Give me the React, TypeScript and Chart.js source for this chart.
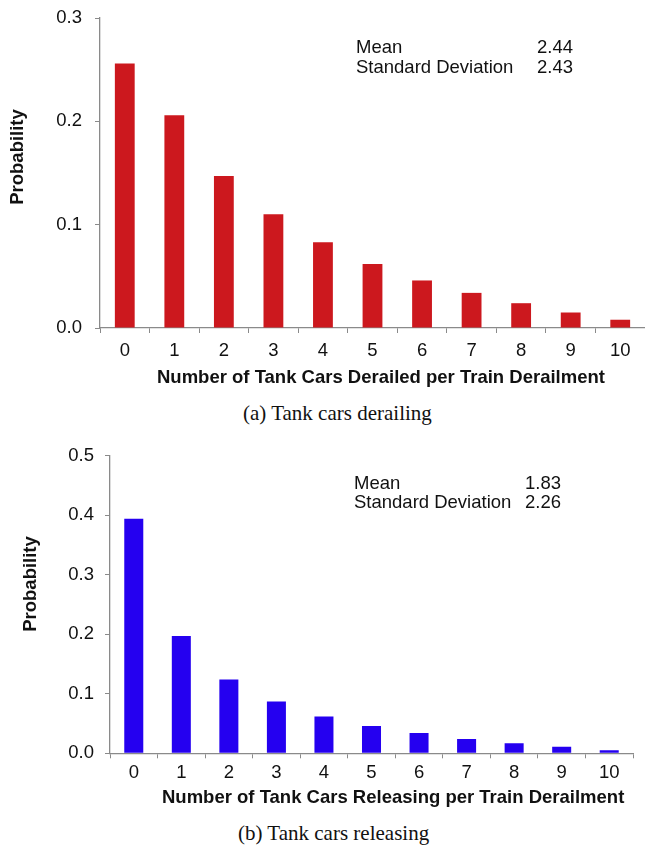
import React, { useEffect, useRef } from 'react';
import { Chart, registerables } from 'chart.js';

Chart.register(...registerables);

// ---- data ----
const categories = ['0', '1', '2', '3', '4', '5', '6', '7', '8', '9', '10'];
const derailedProb = [0.256, 0.206, 0.147, 0.110, 0.083, 0.062, 0.046, 0.034, 0.024, 0.015, 0.008];
const releasingProb = [0.394, 0.197, 0.124, 0.087, 0.062, 0.046, 0.034, 0.024, 0.017, 0.011, 0.005];
const derailedYMax = 0.3;
const releasingYMax = 0.5;
const yStep = 0.1;
const derailedStats = [['Mean', '2.44'], ['Standard Deviation', '2.43']];
const releasingStats = [['Mean', '1.83'], ['Standard Deviation', '2.26']];
const derailedXTitle = 'Number of Tank Cars Derailed per Train Derailment';
const releasingXTitle = 'Number of Tank Cars Releasing per Train Derailment';
const yTitle = 'Probability';
const captionA = '(a) Tank cars derailing';
const captionB = '(b) Tank cars releasing';

const FONT = '"Liberation Sans", Arial, Helvetica, sans-serif';
const FS = 18.5;
const AXIS_COLOR = '#8a8a8a';

type Annot = {
  text: string; x: number; y: number; bold?: boolean; align?: CanvasTextAlign;
  baseline?: CanvasTextBaseline; rotate?: number;
};

function makeAnnot(items: Annot[]) {
  return {
    id: 'annot',
    afterDraw(chart: any) {
      const ctx = chart.ctx as CanvasRenderingContext2D;
      items.forEach((it) => {
        ctx.save();
        ctx.font = `${it.bold ? 'bold ' : ''}${FS}px ${FONT}`;
        ctx.fillStyle = '#111';
        ctx.textAlign = it.align || 'left';
        ctx.textBaseline = it.baseline || 'alphabetic';
        ctx.translate(it.x, it.y);
        if (it.rotate) ctx.rotate(it.rotate);
        ctx.fillText(it.text, 0, 0);
        ctx.restore();
      });
    },
  };
}

type PanelProps = {
  top: number; height: number; values: number[]; color: string; yMax: number;
  axisLeft: number; padTop: number; padRight: number; plotBottom: number;
  xTickPad: number; yTickPad: number; annotations: Annot[];
};

function BarPanel(p: PanelProps) {
  const ref = useRef<HTMLCanvasElement | null>(null);
  useEffect(() => {
    const tickFont = { family: FONT, size: FS };
    const chart = new Chart(ref.current as HTMLCanvasElement, {
      type: 'bar',
      data: {
        labels: categories,
        datasets: [{
          data: p.values,
          backgroundColor: p.color,
          borderWidth: 0,
          categoryPercentage: 1,
          barPercentage: 0.4,
        }],
      },
      options: {
        responsive: false,
        animation: false,
        devicePixelRatio: 1,
        layout: { padding: { top: p.padTop, right: p.padRight, left: 0, bottom: 0 }, autoPadding: false },
        plugins: { legend: { display: false }, tooltip: { enabled: false } },
        scales: {
          x: {
            offset: true,
            grid: { display: true, drawOnChartArea: false, drawTicks: true, tickLength: 5, color: AXIS_COLOR, offset: true },
            border: { display: true, color: AXIS_COLOR, width: 1.3 },
            ticks: { font: tickFont, color: '#111', padding: p.xTickPad, maxRotation: 0, autoSkip: false },
            afterFit: (s: any) => {
              s.height = p.height - p.plotBottom;
              s.paddingLeft = 0; s.paddingRight = 0; s.paddingTop = 0; s.paddingBottom = 0;
            },
          },
          y: {
            min: 0,
            max: p.yMax,
            grid: { display: true, drawOnChartArea: false, drawTicks: true, tickLength: 5, color: AXIS_COLOR },
            border: { display: true, color: AXIS_COLOR, width: 1.3 },
            ticks: {
              stepSize: yStep,
              font: tickFont,
              color: '#111',
              padding: p.yTickPad,
              callback: (v: any) => Number(v).toFixed(1),
            },
            afterFit: (s: any) => {
              s.width = p.axisLeft;
              s.paddingLeft = 0; s.paddingRight = 0; s.paddingTop = 0; s.paddingBottom = 0;
            },
          },
        },
      },
      plugins: [makeAnnot(p.annotations)],
    } as any);
    return () => chart.destroy();
  }, []);
  return (
    <canvas
      ref={ref}
      width={645}
      height={p.height}
      style={{ position: 'absolute', left: 0, top: p.top, width: 645, height: p.height }}
    />
  );
}

function statsAnnots(stats: string[][], labelX: number, valueX: number, y0: number, dy: number): Annot[] {
  const out: Annot[] = [];
  stats.forEach((s, i) => {
    out.push({ text: s[0], x: labelX, y: y0 + i * dy });
    out.push({ text: s[1], x: valueX, y: y0 + i * dy });
  });
  return out;
}

const captionStyle: React.CSSProperties = {
  position: 'absolute',
  fontFamily: '"Liberation Serif", "Times New Roman", serif',
  fontSize: 21,
  lineHeight: '21px',
  color: '#111',
  whiteSpace: 'nowrap',
};

export default function App() {
  const annotsA: Annot[] = [
    { text: yTitle, x: 17.5, y: 157, bold: true, align: 'center', baseline: 'middle', rotate: -Math.PI / 2 },
    { text: derailedXTitle, x: 157, y: 383, bold: true },
    ...statsAnnots(derailedStats, 356, 537, 53, 19.5),
  ];
  const annotsB: Annot[] = [
    { text: yTitle, x: 30.8, y: 154, bold: true, align: 'center', baseline: 'middle', rotate: -Math.PI / 2 },
    { text: releasingXTitle, x: 162, y: 373, bold: true },
    ...statsAnnots(releasingStats, 354, 525, 59, 18.7),
  ];
  return (
    <div style={{ position: 'absolute', left: 0, top: 0, width: 645, height: 847, background: '#fff', overflow: 'hidden' }}>
      <BarPanel
        top={0} height={395} values={derailedProb} color="#cc181e" yMax={derailedYMax}
        axisLeft={100} padTop={18} padRight={0} plotBottom={328}
        xTickPad={7} yTickPad={13} annotations={annotsA}
      />
      <div style={{ ...captionStyle, left: 243, top: 403 }}>{captionA}</div>
      <BarPanel
        top={430} height={390} values={releasingProb} color="#2500f0" yMax={releasingYMax}
        axisLeft={110} padTop={25.7} padRight={12} plotBottom={323.3}
        xTickPad={4} yTickPad={11} annotations={annotsB}
      />
      <div style={{ ...captionStyle, left: 238, top: 823 }}>{captionB}</div>
    </div>
  );
}
